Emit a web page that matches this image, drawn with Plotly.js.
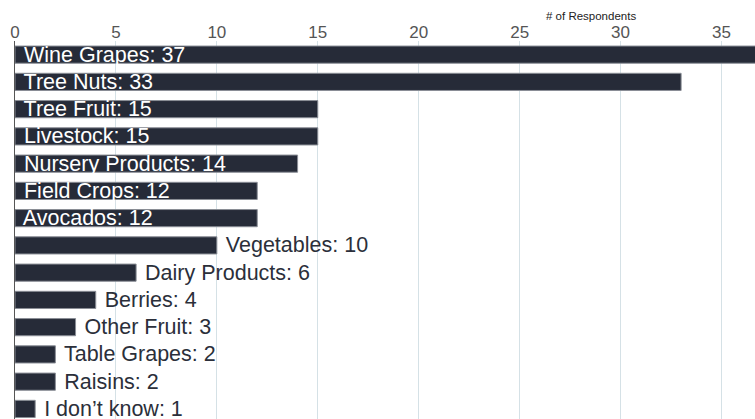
<!DOCTYPE html>
<html>
<head>
<meta charset="utf-8">
<script src="https://cdn.plot.ly/plotly-3.0.1.min.js"></script>
<style>html,body{margin:0;padding:0;background:#fff;}#chart{width:755px;height:419px;}</style>
</head>
<body>
<div id="chart"></div>
<script>
const categories = ["Wine Grapes","Tree Nuts","Tree Fruit","Livestock","Nursery Products","Field Crops","Avocados","Vegetables","Dairy Products","Berries","Other Fruit","Table Grapes","Raisins","I don\u2019t know"];
const respondents = [37,33,15,15,14,12,12,10,6,4,3,2,2,1];
const tickValues = [0,5,10,15,20,25,30,35];
const axisTitle = "# of Respondents";

const positions = respondents.map(v => v >= 12 ? 'inside' : 'outside');
const FONT = 'Liberation Sans, Arial, sans-serif';

const trace = {
  type: 'bar',
  orientation: 'h',
  x: respondents,
  y: categories,
  text: categories.map((c,i) => ' ' + c + ': ' + respondents[i]),
  texttemplate: '%{text}',
  textposition: positions,
  insidetextanchor: 'start',
  insidetextfont: {family: FONT, size: 21.5, color: '#ffffff'},
  outsidetextfont: {family: FONT, size: 21.5, color: '#2b2f3a'},
  constraintext: 'none',
  cliponaxis: true,
  width: 0.63,
  marker: {color: '#262b38', line: {color: '#8a8e96', width: 1}},
  hoverinfo: 'none'
};

const layout = {
  width: 755, height: 419,
  margin: {l: 14.5, r: 0, t: 41, b: 0},
  paper_bgcolor: '#ffffff',
  plot_bgcolor: '#ffffff',
  showlegend: false,
  xaxis: {
    side: 'top',
    range: [0, 36.66],
    tickvals: tickValues,
    ticktext: tickValues.map(String),
    tickfont: {family: FONT, size: 17, color: '#555'},
    showgrid: true,
    gridcolor: '#d5e1e6',
    gridwidth: 1,
    zeroline: false,
    showline: false,
    ticks: '',
    ticklabelstandoff: -1
  },
  yaxis: {
    type: 'category',
    range: [13.37, -0.5],
    showticklabels: false,
    showgrid: false,
    zeroline: false,
    showline: true,
    linecolor: '#555',
    linewidth: 1.5,
    ticks: ''
  },
  annotations: [{
    text: axisTitle,
    xref: 'paper', yref: 'paper',
    x: 0.778, y: 1, yshift: 25,
    xanchor: 'center', yanchor: 'middle',
    showarrow: false,
    font: {family: FONT, size: 11.5, color: '#222'}
  }]
};

Plotly.newPlot('chart', [trace], layout, {displayModeBar: false, staticPlot: true});
</script>
</body>
</html>
